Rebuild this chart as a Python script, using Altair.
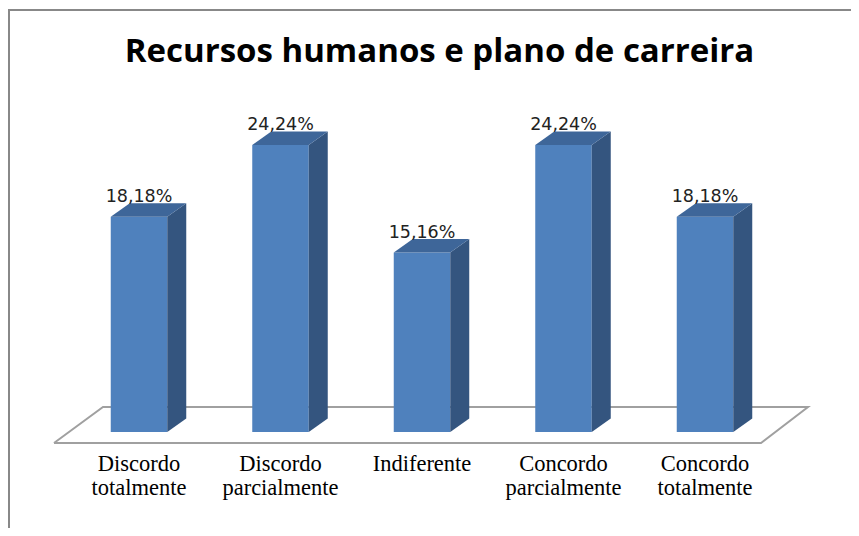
import altair as alt
import pandas as pd

# ---- data ----
categories = ["Discordo totalmente", "Discordo parcialmente", "Indiferente",
              "Concordo parcialmente", "Concordo totalmente"]
values = [18.18, 24.24, 15.16, 24.24, 18.18]
axis_labels = ["Discordo\ntotalmente", "Discordo\nparcialmente", "Indiferente",
               "Concordo\nparcialmente", "Concordo\ntotalmente"]
title_text = "Recursos humanos e plano de carreira"

# ---- layout constants ----
W, H = 843, 520
STEP = 141.5      # px per category
X0 = 131          # px of first category centre
PXPCT = 11.84     # px per percent
Y0 = 424          # px of zero line
HW = 28.25 / STEP           # half bar width (units)
DX = 19 / STEP              # depth x offset (units)
DY = 13.5 / PXPCT           # depth y offset (percent)

xs = alt.Scale(domain=[-X0 / STEP, (W - X0) / STEP], zero=False, nice=False)
ys = alt.Scale(domain=[-(H - Y0) / PXPCT, Y0 / PXPCT], zero=False, nice=False)

FRONT = "#4F81BD"
SIDE = "#34557F"
TOP = "#3E6699"

idx = list(range(len(categories)))
front = pd.DataFrame({
    "cat": categories,
    "l": [i - HW for i in idx],
    "r": [i + HW for i in idx],
    "c": idx,
    "v": values,
    "top": [v + DY for v in values],
    "lab": [f"{v:.2f}".replace(".", ",") + "%" for v in values],
    "axl": axis_labels,
    "zero": [0] * len(values),
})

side_rows, top_rows = [], []
for i, (c, v) in enumerate(zip(categories, values)):
    l, r = i - HW, i + HW
    side_rows += [
        {"cat": c, "x": r, "y": 0, "y2": v},
        {"cat": c, "x": r + DX, "y": DY, "y2": v + DY},
    ]
    top_rows += [
        {"cat": c, "x": l, "y": v, "y2": v},
        {"cat": c, "x": l + DX, "y": v, "y2": v + DY},
        {"cat": c, "x": r, "y": v, "y2": v + DY},
        {"cat": c, "x": r + DX, "y": v + DY, "y2": v + DY},
    ]
side = pd.DataFrame(side_rows)
topf = pd.DataFrame(top_rows)

# floor plane (decoration) in scale units
fl_front_y = -11 / PXPCT
fl_back_y = 25 / PXPCT
floor = pd.DataFrame({
    "x": [-85 / STEP, -36 / STEP, 669 / STEP, 622 / STEP, -85 / STEP],
    "y": [fl_front_y, fl_back_y, fl_back_y, fl_front_y, fl_front_y],
    "o": [0, 1, 2, 3, 4],
})

X = lambda f: alt.X(f, scale=xs, axis=None)
Y = lambda f: alt.Y(f, scale=ys, axis=None, stack=None)

floor_layer = alt.Chart(floor).mark_line(color="#A0A0A0", strokeWidth=2).encode(
    x=X("x:Q"), y=Y("y:Q"), order="o:Q")

front_layer = alt.Chart(front).mark_rect(color=FRONT).encode(
    x=X("l:Q"), x2="r:Q", y=Y("zero:Q"), y2="v:Q")

side_layer = alt.Chart(side).mark_area(color=SIDE, orient="vertical", opacity=1).encode(
    x=X("x:Q"), y=Y("y:Q"), y2="y2:Q", detail="cat:N")

top_layer = alt.Chart(topf).mark_area(color=TOP, orient="vertical", opacity=1).encode(
    x=X("x:Q"), y=Y("y:Q"), y2="y2:Q", detail="cat:N")

value_labels = alt.Chart(front).mark_text(
    font="DejaVu Sans", fontSize=17.5, color="#222222", baseline="alphabetic", dy=-1.5
).encode(x=X("c:Q"), y=Y("top:Q"), text="lab:N")

cat_labels = alt.Chart(front).mark_text(
    font="Liberation Serif", fontSize=22.5, color="#000000", baseline="top",
    lineBreak="\n", lineHeight=24.5, dy=20.5
).encode(x=X("c:Q"), y=Y("zero:Q"), text="axl:N")

title_df = pd.DataFrame({"t": [title_text]})
title_layer = alt.Chart(title_df).mark_text(
    font="Open Sans", fontWeight="bold", fontSize=33, color="#000000", baseline="alphabetic"
).encode(x=alt.value(431.5), y=alt.value(54), text="t:N")

frame_left = alt.Chart(title_df).mark_rule(color="#888888", strokeWidth=2).encode(
    x=alt.value(1), y=alt.value(1), y2=alt.value(H))
frame_top = alt.Chart(title_df).mark_rule(color="#888888", strokeWidth=2).encode(
    x=alt.value(0), x2=alt.value(W), y=alt.value(2))

chart = alt.layer(
    floor_layer, front_layer, side_layer, top_layer,
    value_labels, cat_labels, title_layer, frame_left, frame_top
).properties(
    width=W, height=H, padding=0,
    autosize=alt.AutoSizeParams(type="none"),
    background="white",
).configure_view(stroke=None)

chart.save("out.html", embed_options={"renderer": "svg", "actions": False})
